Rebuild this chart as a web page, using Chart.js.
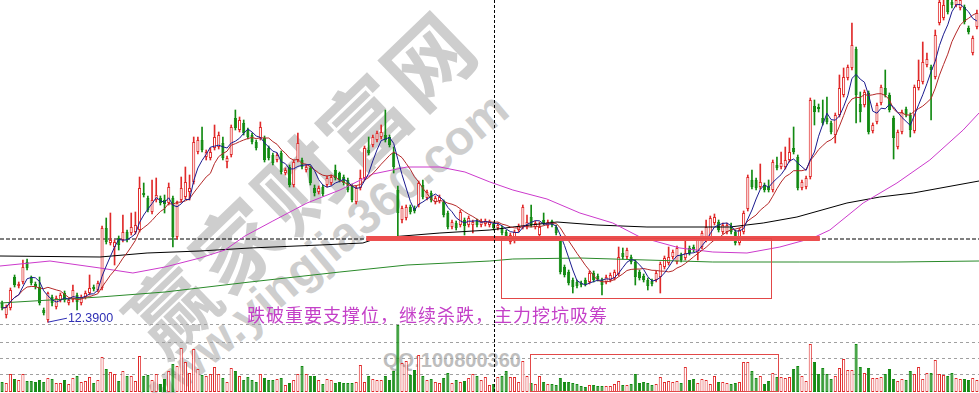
<!DOCTYPE html>
<html><head><meta charset="utf-8">
<script src="https://cdn.jsdelivr.net/npm/chart.js@4.4.1/dist/chart.umd.min.js"></script>
<style>
html,body{margin:0;padding:0;background:#fff;overflow:hidden;}
#wrap{position:relative;width:979px;height:393px;overflow:hidden;}
canvas{position:absolute;left:0;z-index:1;}
#pc{top:0;}
#vc{top:324px;}
.wm{position:absolute;white-space:nowrap;z-index:0;transform:translate(-50%,-50%) rotate(-44deg);}
#wm1{left:298px;top:180px;font:700 86px "Noto Sans CJK SC";letter-spacing:3px;color:rgb(206,206,206);}
#wm2{left:322px;top:252px;font:700 48px "Liberation Sans";color:rgb(206,206,206);transform:translate(-50%,-50%) rotate(-40deg);}
#wm3{left:383px;top:349px;font:700 20px "Liberation Sans";color:rgb(190,190,190);transform:none;}
</style></head><body>
<div id="wrap">
<div class="wm" id="wm1">赢家财富网</div>
<div class="wm" id="wm2">www.yingjia360.com</div>
<div class="wm" id="wm3">QQ:100800360</div>
<canvas id="pc" width="979" height="324"></canvas>
<canvas id="vc" width="979" height="69"></canvas>
</div>
<script>
// ---- daily candles (price) ----
const opens = [
13.35,12.75,13.10,14.65,14.20,14.40,15.40,14.60,14.30,14.15,
13.00,12.50,13.65,13.15,13.50,13.85,13.35,13.50,13.75,13.35,
13.65,13.85,14.15,14.00,14.10,17.10,16.35,16.15,16.60,16.50,
16.90,16.85,16.90,17.00,18.85,18.60,17.90,18.50,18.60,18.50,
18.35,18.60,16.65,18.50,18.65,18.90,19.40,20.90,21.50,20.65,
20.60,21.10,21.15,21.35,20.40,20.75,22.60,22.00,22.35,22.00,
21.75,21.40,21.60,21.60,21.10,20.75,20.50,20.85,19.85,20.15,
19.25,20.50,20.50,20.00,20.10,19.10,18.90,19.15,19.25,19.35,
20.00,19.85,19.65,19.50,19.20,18.40,19.10,19.60,21.00,21.25,
21.50,21.65,21.75,21.65,20.85,19.00,17.50,17.60,18.15,18.10,
18.25,19.25,18.60,18.85,18.40,18.45,18.40,17.85,17.15,17.35,
17.25,17.50,17.25,17.25,17.45,17.25,17.30,17.25,17.30,17.10,
17.10,16.90,16.40,16.65,17.00,17.15,17.15,17.65,17.15,16.75,
17.50,17.20,17.45,17.15,16.60,15.15,14.90,14.50,14.40,14.35,
14.50,14.40,14.85,14.70,14.50,14.40,14.50,14.60,14.80,15.85,
15.65,15.65,15.40,14.90,14.70,14.50,14.45,14.50,14.65,15.15,
15.35,15.65,15.40,15.75,15.60,16.10,16.15,15.85,16.15,16.50,
16.65,17.35,17.40,16.90,16.90,17.15,16.90,16.35,16.90,18.05,
19.50,19.50,19.15,19.25,19.15,19.00,20.25,20.15,20.15,20.50,
21.10,20.65,19.10,19.15,19.65,23.20,23.15,22.60,22.60,22.35,
21.75,22.75,23.75,24.60,25.10,26.05,23.30,23.25,23.85,21.95,
22.40,23.35,24.10,23.75,22.60,21.15,21.90,23.05,22.75,21.95,
24.10,24.40,25.25,25.15,24.65,27.35,27.60,28.50,28.40,28.25,
28.10,28.15,27.10,25.85,27.15];
const highs = [
13.45,13.25,14.10,14.75,14.40,15.50,15.55,14.70,14.40,14.65,
13.10,13.90,13.75,13.70,13.85,13.95,13.60,14.25,13.85,13.75,
13.95,14.75,14.25,14.45,17.20,17.60,17.85,16.50,16.70,17.75,
17.00,17.85,17.90,19.65,19.35,18.70,19.50,19.60,18.70,18.75,
19.35,18.70,18.45,19.65,20.15,19.75,21.65,21.65,22.15,21.00,
21.10,22.25,21.90,21.65,20.70,22.25,23.00,22.65,22.50,22.10,
21.85,21.50,22.40,21.70,21.20,20.85,20.85,20.95,20.10,20.25,
20.50,21.85,20.60,20.25,20.20,19.25,19.20,19.25,19.70,19.75,
20.25,19.90,19.75,19.60,19.30,19.20,20.00,21.20,21.65,21.75,
21.95,22.25,23.00,21.75,21.15,19.20,18.20,18.25,18.25,18.20,
19.45,19.50,19.00,18.95,18.70,18.75,18.50,17.95,17.50,17.45,
18.00,17.60,17.70,17.50,17.55,17.55,17.55,17.50,17.40,17.35,
17.20,17.00,16.85,17.00,17.30,18.25,17.75,18.25,17.45,17.40,
17.85,17.50,17.50,17.25,16.70,15.25,15.00,14.60,14.50,14.45,
14.60,14.95,14.95,14.80,14.60,14.75,14.85,15.00,16.15,16.10,
16.10,15.75,15.50,15.00,14.80,14.60,14.55,14.95,15.40,15.70,
16.15,16.00,16.20,15.85,16.50,16.20,16.25,16.60,16.95,17.50,
17.70,17.80,17.50,17.35,17.35,17.35,17.00,17.10,17.95,19.75,
20.00,19.60,20.30,19.35,19.50,20.50,20.65,20.90,21.15,21.60,
22.15,20.75,19.50,19.70,23.60,23.50,23.30,23.50,23.65,22.45,
22.85,24.75,25.10,25.25,27.35,26.15,23.90,24.00,23.95,22.35,
23.35,24.25,25.00,23.85,22.70,22.00,23.00,23.15,22.85,24.25,
25.50,26.40,25.85,25.25,27.00,28.80,28.80,28.60,28.60,28.80,
28.80,28.25,27.20,26.70,28.00];
const lows = [
13.00,12.60,13.00,14.15,14.10,14.30,15.00,14.25,14.05,13.25,
12.75,12.39,13.20,13.05,13.40,13.40,13.25,13.40,13.00,13.25,
13.55,13.75,13.95,13.90,14.00,16.30,16.25,15.25,16.00,16.40,
16.40,16.75,16.80,16.90,18.65,17.90,17.80,18.40,18.25,17.85,
18.25,16.15,16.55,18.40,18.55,18.50,19.30,20.80,20.90,20.50,
20.50,21.00,21.05,20.50,20.10,20.65,22.00,21.90,21.75,21.55,
21.30,21.00,21.50,20.40,20.50,20.25,20.40,19.80,19.75,19.15,
19.15,20.40,20.05,19.90,19.25,18.70,18.80,18.70,19.15,19.25,
19.50,19.40,19.25,18.90,18.40,18.30,19.00,19.50,20.75,21.15,
21.40,21.55,21.40,21.15,19.85,16.65,17.35,17.50,17.80,17.85,
18.15,18.55,18.50,18.40,18.30,18.35,17.65,17.05,17.05,17.00,
17.15,16.75,17.15,16.85,17.15,17.15,17.20,17.15,17.00,17.00,
16.75,16.55,16.30,16.35,16.90,17.05,17.05,17.15,17.05,16.65,
17.25,17.10,17.15,16.75,14.80,14.65,14.25,13.85,14.10,14.15,
14.20,14.30,14.40,14.45,13.75,14.30,14.40,14.50,14.70,15.55,
15.55,15.30,14.25,14.50,14.40,14.00,14.20,14.40,13.85,15.05,
15.25,15.55,15.30,15.40,15.50,15.75,15.90,15.50,16.05,16.40,
16.55,17.25,16.90,16.80,16.80,16.80,16.25,16.25,16.80,17.95,
19.05,19.00,19.05,18.90,18.90,18.90,20.00,20.05,20.05,20.40,
20.80,19.00,19.00,19.05,19.55,22.25,22.90,22.25,22.30,21.80,
21.35,22.65,23.65,24.50,25.00,22.35,22.40,23.15,21.80,21.85,
22.30,23.25,23.65,22.90,20.55,21.05,21.80,22.65,21.65,21.85,
24.00,24.30,25.15,22.50,24.55,27.25,27.50,27.80,28.10,28.15,
28.00,27.30,26.80,25.75,27.05];
const closes = [
13.10,13.15,14.00,14.25,14.30,15.15,15.10,14.35,14.15,13.35,
12.85,13.85,13.35,13.60,13.75,13.50,13.50,14.00,13.40,13.65,
13.85,14.10,14.05,14.35,17.10,16.40,16.50,16.40,16.25,16.90,
16.50,17.15,17.25,19.10,18.75,18.00,18.50,18.75,18.35,18.30,
19.15,16.65,18.35,19.10,19.40,19.10,21.40,21.50,21.00,20.90,
20.90,21.65,21.75,20.60,20.60,22.15,22.10,22.50,21.85,21.65,
21.40,21.10,22.15,20.50,20.60,20.35,20.75,19.90,20.00,19.25,
20.40,21.35,20.15,20.15,19.35,18.85,19.10,18.80,19.60,19.65,
19.60,19.50,19.35,19.00,18.50,19.10,19.60,21.10,20.85,21.65,
21.85,21.90,21.50,21.25,20.15,17.85,18.10,18.15,17.90,17.95,
19.35,18.65,18.90,18.50,18.60,18.65,17.75,17.15,17.40,17.10,
17.90,17.20,17.60,17.40,17.25,17.45,17.45,17.40,17.10,17.25,
16.85,16.65,16.75,16.90,17.20,18.15,17.40,17.25,17.35,17.15,
17.35,17.40,17.25,16.85,14.90,14.75,14.35,14.15,14.20,14.25,
14.30,14.85,14.50,14.55,14.25,14.65,14.75,14.90,15.65,15.65,
16.00,15.40,14.65,14.60,14.50,14.20,14.30,14.85,15.30,15.60,
15.65,15.90,16.10,15.50,15.85,15.85,16.00,16.50,16.85,17.15,
17.60,17.65,17.00,17.25,17.25,16.90,16.35,17.00,17.85,19.65,
19.15,19.10,19.40,19.00,19.00,20.40,20.10,20.35,20.50,20.90,
20.90,19.10,19.40,19.60,23.50,22.90,23.05,22.35,22.40,21.90,
22.75,24.10,24.65,25.15,26.25,23.75,22.90,23.90,21.90,22.25,
23.25,24.15,23.75,23.00,21.60,21.90,22.90,22.75,22.00,24.15,
24.50,25.40,25.55,25.00,26.75,28.40,28.25,27.90,28.25,28.50,
28.50,27.40,26.90,26.60,27.85];
// volume (thousand lots)
const volumes = [
10,9,18,13,12,18,11,11,10,12,
10,14,13,9,9,12,8,14,16,10,
11,15,9,12,35,23,20,18,11,21,
16,16,11,36,16,17,12,18,8,13,
21,28,26,44,30,19,43,23,17,16,
18,25,18,14,10,24,21,16,12,15,
12,10,18,14,12,12,13,14,7,9,
12,18,26,18,16,16,12,8,13,12,
9,10,9,9,9,10,27,10,16,13,
12,12,16,12,21,67,29,31,17,22,
37,16,12,13,10,9,14,19,9,12,
10,11,14,18,16,12,15,7,8,15,
16,21,15,15,10,31,16,9,8,16,
10,8,8,7,14,10,10,9,8,6,
5,7,7,6,6,6,6,8,11,7,
7,8,18,9,10,9,7,8,15,10,
11,10,11,9,25,12,13,9,13,12,
8,16,10,10,9,8,9,10,30,30,
21,14,16,8,11,19,15,15,14,15,
23,26,16,11,48,30,18,24,18,13,
16,24,33,22,22,48,25,19,24,14,
14,15,18,23,13,11,13,12,21,18,
25,13,19,19,32,18,17,16,19,14,
13,13,12,14,12];
// long moving averages: [day index, price]
const maMagenta = [[-0.5,15.2],[11.5,15.45],[23.5,15.1],[31.4,14.85],[39.1,15.15],[47.5,15.6],[53.5,16.0],[58.3,16.7],[65,17.45],[73.2,18.35],[81.1,19.0],[89,19.8],[97.2,20.15],[105.1,20.15],[111.1,19.9],[117.1,19.4],[122.6,19.0],[130.8,18.55],[138.7,17.85],[146.6,17.35],[153.1,16.65],[162.7,16.1],[170.6,15.9],[178.8,15.85],[186.7,16.15],[194.6,16.6],[198.7,17.0],[206.7,18.35],[214.8,19.35],[222.7,20.5],[230.7,22.0],[234.5,22.85]];
const maBlack = [[-0.5,15.7],[23.5,15.65],[34.8,15.85],[47.5,15.95],[59.5,16.1],[76.3,16.25],[86.6,16.35],[90.2,16.6],[105.1,16.85],[117.1,17.0],[122.6,17.15],[133.2,17.4],[142.8,17.25],[154.8,17.15],[174.7,17.15],[182.7,17.35],[190.8,17.65],[202.8,18.35],[210.7,18.65],[218.7,18.85],[234.5,19.45]];
const maGreen = [[-0.5,13.35],[23.5,13.65],[39.1,13.9],[59.5,14.4],[81.1,14.9],[97.2,15.25],[117.1,15.45],[122.6,15.55],[138.7,15.6],[170.6,15.4],[191.5,15.4],[214.8,15.4],[234.5,15.45]];
// annotations
const supportLine = {from: 87.4, to: 196.3, price: 16.57};
const currentPriceLine = 16.55;
const crossIndex = 118.1;
const priceBox = {from: 119.8, to: 184.6, top: 16.6, bottom: 13.6};
const volBox = {from: 126.7, to: 186.3, top: 38};
const volGridLevels = [18, 34, 50, 68];
const noteText = '跌破重要支撑位，继续杀跌，主力挖坑吸筹';
const noteAnchor = {index: 58.8, price: 12.75};

const N = opens.length;
const days = opens.map((_, i) => i);
const RED = '#e02a2a', GREEN = '#128a12';
const up = days.map(i => closes[i] >= opens[i]);
const edgeCol = days.map(i => up[i] ? RED : GREEN);
const fillCol = days.map(i => up[i] ? '#ffffff' : GREEN);
function ma(n){return closes.map((c,i)=>{const s=Math.max(0,i-n+1);let t=0;for(let k=s;k<=i;k++)t+=closes[k];return {x:i,y:t/(i-s+1)};});}
const pts = a => a.map(p => ({x:p[0], y:p[1]}));
const lineDs = (data, color, order, extra) => Object.assign({type:'line', data, borderColor:color, borderWidth:1, pointRadius:0, tension:0, order}, extra||{});

const xScale = {type:'linear', min:-0.5, max:N-0.5, offset:false, display:false};

function vline(chart){
  const c = chart.ctx, x = Math.round(chart.scales.x.getPixelForValue(crossIndex)) + 0.5;
  c.save(); c.strokeStyle='#000'; c.lineWidth=1; c.setLineDash([3,2]);
  c.beginPath(); c.moveTo(x,0); c.lineTo(x,chart.height); c.stroke(); c.restore();
}

const pricePlugin = {id:'priceAnno', afterDatasetsDraw(chart){
  const c = chart.ctx, xs = chart.scales.x, ys = chart.scales.y;
  c.save();
  c.strokeStyle='rgb(226,72,72)'; c.lineWidth=1;
  const bx1=Math.round(xs.getPixelForValue(priceBox.from))+0.5, bx2=Math.round(xs.getPixelForValue(priceBox.to))+0.5;
  const by1=Math.round(ys.getPixelForValue(priceBox.top))+0.5, by2=Math.round(ys.getPixelForValue(priceBox.bottom))+0.5;
  c.strokeRect(bx1,by1,bx2-bx1,by2-by1);
  let li=0; for(let i=1;i<N;i++) if(lows[i]<lows[li]) li=i;
  const lx=xs.getPixelForValue(li), ly=ys.getPixelForValue(lows[li]);
  c.strokeStyle='#2e2eb4'; c.beginPath(); c.moveTo(lx,ly); c.lineTo(lx+19,ly-4); c.stroke();
  c.fillStyle='#2e2eb4'; c.font='12.5px "Liberation Sans"'; c.textBaseline='middle'; c.textAlign='left';
  c.fillText(lows[li].toFixed(4), lx+20, ly-4);
  c.fillStyle='rgb(196,64,200)'; c.font='18px "Noto Sans CJK SC"';
  if ('letterSpacing' in c) c.letterSpacing = '1px';
  c.fillText(noteText, xs.getPixelForValue(noteAnchor.index), ys.getPixelForValue(noteAnchor.price));
  c.restore();
  vline(chart);
}};

new Chart(document.getElementById('pc'), {
  type:'bar',
  data:{datasets:[
    lineDs([{x:supportLine.from,y:supportLine.price},{x:supportLine.to,y:supportLine.price}], 'rgb(236,78,78)', -1, {borderWidth:5}),
    lineDs(ma(5), '#1a1a8e', 0),
    lineDs(ma(10), '#b42828', 0),
    lineDs(pts(maMagenta), '#cc3acc', 0),
    lineDs(pts(maBlack), '#000000', 0),
    lineDs(pts(maGreen), '#2a8a2a', 0),
    {type:'bar', data:days.map(i=>({x:i,y:[opens[i],closes[i]]})), backgroundColor:fillCol, borderColor:edgeCol, borderWidth:1, borderSkipped:false, minBarLength:1, barPercentage:0.75, categoryPercentage:1, grouped:false, order:1},
    {type:'bar', data:days.map(i=>({x:i,y:[lows[i],highs[i]]})), backgroundColor:edgeCol, borderWidth:0, barThickness:1, grouped:false, order:2},
    lineDs([{x:-0.5,y:currentPriceLine},{x:N-0.5,y:currentPriceLine}], '#000', 3, {borderDash:[4,2]})
  ]},
  options:{responsive:false, animation:false, layout:{padding:0},
    plugins:{legend:{display:false}, tooltip:{enabled:false}},
    scales:{x:xScale, y:{min:12.3, max:28.5, display:false}}},
  plugins:[pricePlugin]
});

const volPlugin = {id:'volAnno',
  beforeDatasetsDraw(chart){
    const c=chart.ctx, ys=chart.scales.y;
    c.save(); c.strokeStyle='rgb(160,160,160)'; c.lineWidth=1; c.setLineDash([3,3]);
    volGridLevels.forEach(v=>{const y=Math.round(ys.getPixelForValue(v))+0.5; c.beginPath(); c.moveTo(0,y); c.lineTo(chart.width,y); c.stroke();});
    c.restore();
  },
  afterDatasetsDraw(chart){
    const c=chart.ctx, xs=chart.scales.x, ys=chart.scales.y;
    c.save(); c.strokeStyle='rgb(226,72,72)'; c.lineWidth=1;
    const x1=Math.round(xs.getPixelForValue(volBox.from))+0.5, x2=Math.round(xs.getPixelForValue(volBox.to))+0.5;
    const y1=Math.round(ys.getPixelForValue(volBox.top))+0.5, y2=Math.round(ys.getPixelForValue(0))-0.5;
    c.strokeRect(x1,y1,x2-x1,y2-y1); c.restore();
    vline(chart);
  }};

new Chart(document.getElementById('vc'), {
  type:'bar',
  data:{datasets:[
    {data:days.map(i=>({x:i,y:volumes[i]})), backgroundColor:fillCol, borderColor:edgeCol, borderWidth:1, borderSkipped:false, barPercentage:0.75, categoryPercentage:1}
  ]},
  options:{responsive:false, animation:false, layout:{padding:{bottom:1}},
    plugins:{legend:{display:false}, tooltip:{enabled:false}},
    scales:{x:xScale, y:{min:0, max:68, display:false}}},
  plugins:[volPlugin]
});
</script>
</body></html>
